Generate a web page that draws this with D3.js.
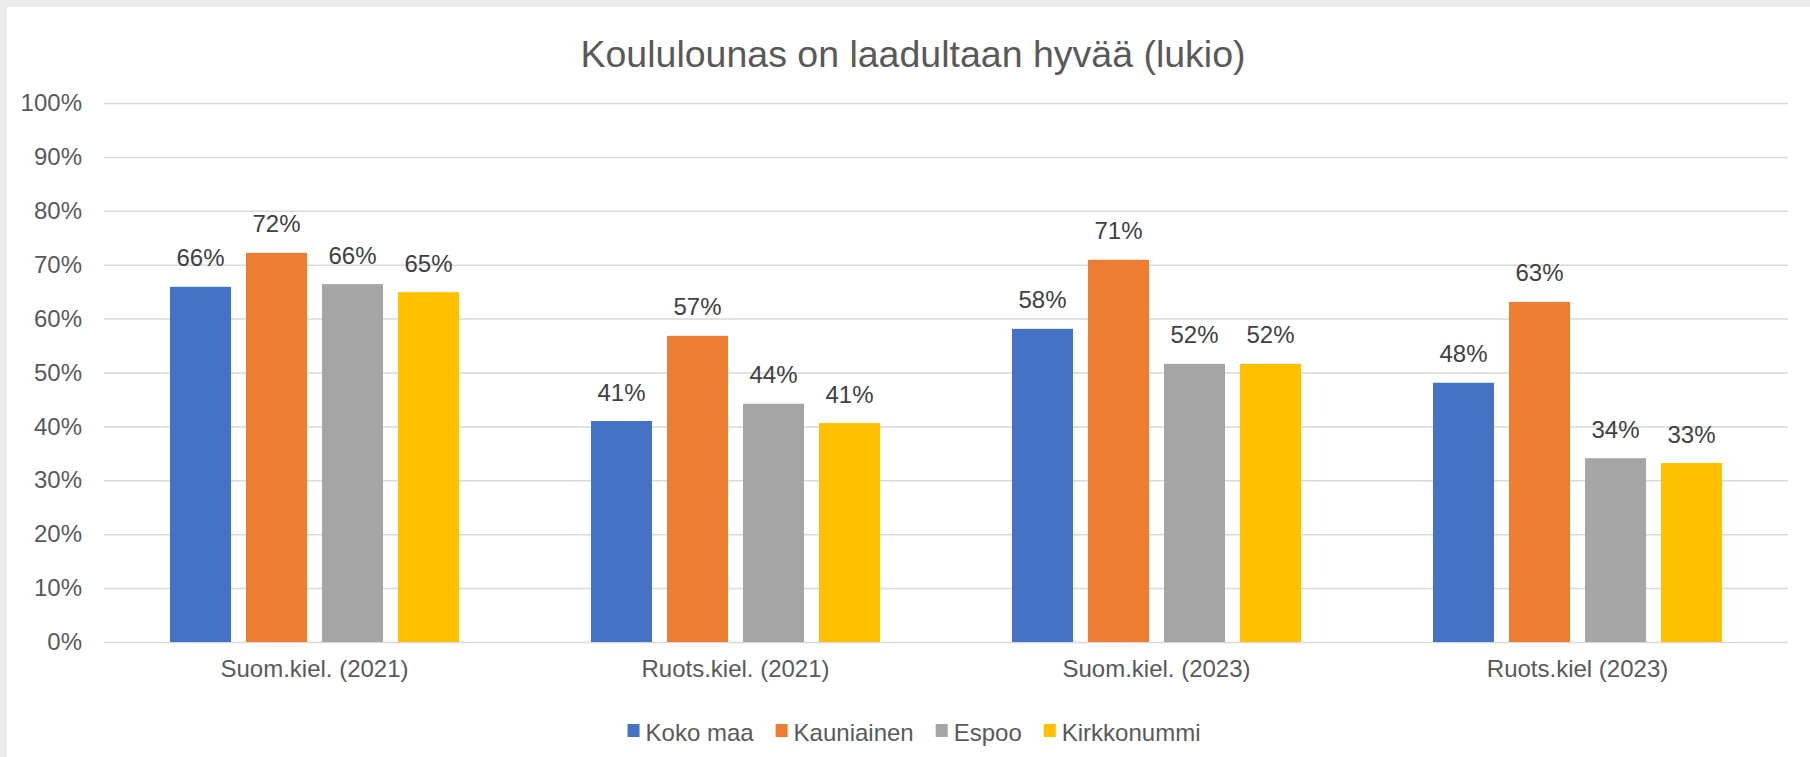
<!DOCTYPE html>
<html>
<head>
<meta charset="utf-8">
<script src="https://cdn.jsdelivr.net/npm/d3@7"></script>
<style>
  html, body { margin: 0; padding: 0; background: #ebebeb; }
  svg { display: block; }
</style>
</head>
<body>
<script>
// Chart data
const categories = ["Suom.kiel. (2021)", "Ruots.kiel. (2021)", "Suom.kiel. (2023)", "Ruots.kiel (2023)"];
const seriesNames = ["Koko maa", "Kauniainen", "Espoo", "Kirkkonummi"];
const kokoMaa     = [0.659, 0.410, 0.581, 0.481];
const kauniainen  = [0.722, 0.568, 0.709, 0.631];
const espoo       = [0.664, 0.442, 0.516, 0.341];
const kirkkonummi = [0.649, 0.406, 0.516, 0.332];
const yTicks = [0, 0.1, 0.2, 0.3, 0.4, 0.5, 0.6, 0.7, 0.8, 0.9, 1.0];
const titleText = "Koululounas on laadultaan hyvää (lukio)";

const seriesValues = [kokoMaa, kauniainen, espoo, kirkkonummi];
const colors = ["#4472C4", "#ED7D31", "#A5A5A5", "#FFC000"];

const W = 1810, H = 757;
const font = "'Liberation Sans', Arial, sans-serif";
const labelSize = "24px";
const plot = { left: 104, right: 1788, top: 103, bottom: 642 };

const svg = d3.select("body").append("svg")
  .attr("width", W).attr("height", H)
  .style("font-family", font);

// white chart area inside the grey frame
svg.append("rect").attr("x", 7).attr("y", 7).attr("width", W - 7).attr("height", H - 7).attr("fill", "#ffffff");

const x0 = d3.scaleBand().domain(categories).range([plot.left, plot.right]).paddingInner(0).paddingOuter(0);
const x1 = d3.scaleBand().domain(seriesNames).range([0, x0.bandwidth()]).paddingInner(0.197).paddingOuter(0.868);
const y = d3.scaleLinear().domain([0, 1]).range([plot.bottom, plot.top]);
const pct = d3.format(".0%");

// gridlines + y tick labels
const yAxis = d3.axisLeft(y).tickValues(yTicks).tickFormat(pct)
  .tickSize(-(plot.right - plot.left)).tickPadding(22);
const gy = svg.append("g").attr("transform", `translate(${plot.left},0)`).call(yAxis);
gy.select(".domain").remove();
gy.selectAll(".tick line").attr("stroke", "#d9d9d9").attr("stroke-width", 1.5);
gy.selectAll(".tick text").attr("fill", "#595959").style("font-size", labelSize).style("font-family", font);

// category axis labels
const xAxis = d3.axisBottom(x0).tickSize(0).tickPadding(18);
const gx = svg.append("g").attr("transform", `translate(0,${plot.bottom})`).call(xAxis);
gx.select(".domain").remove();
gx.selectAll(".tick text").attr("fill", "#595959").style("font-size", labelSize).style("font-family", font);

// bars
const rows = [];
categories.forEach((c, ci) => seriesNames.forEach((s, si) => rows.push({ c, s, si, v: seriesValues[si][ci] })));

const groups = svg.append("g");
groups.selectAll("rect.bar").data(rows).join("rect")
  .attr("class", "bar")
  .attr("x", d => x0(d.c) + x1(d.s))
  .attr("width", x1.bandwidth())
  .attr("y", d => y(d.v))
  .attr("height", d => y(0) - y(d.v))
  .attr("fill", d => colors[d.si]);

// value labels
groups.selectAll("text.lbl").data(rows).join("text")
  .attr("class", "lbl")
  .attr("x", d => x0(d.c) + x1(d.s) + x1.bandwidth() / 2)
  .attr("y", d => y(d.v) - 20.5)
  .attr("text-anchor", "middle")
  .attr("fill", "#404040")
  .style("font-size", labelSize)
  .text(d => pct(d.v));

// title
svg.append("text")
  .attr("x", 913).attr("y", 67)
  .attr("text-anchor", "middle")
  .attr("fill", "#595959")
  .style("font-size", "37.5px")
  .text(titleText);

// legend
const legend = svg.append("g").attr("transform", "translate(0,724)");
let lx = 0;
const items = [];
seriesNames.forEach((name, i) => {
  const g = legend.append("g");
  g.append("rect").attr("x", 0).attr("y", 0).attr("width", 12).attr("height", 13).attr("fill", colors[i]);
  const t = g.append("text").attr("x", 18).attr("y", 16.5).attr("fill", "#595959")
    .style("font-size", labelSize).text(name);
  const w = 18 + t.node().getComputedTextLength();
  items.push({ g, lx });
  lx += w + 22;
});
const totalW = lx - 22;
const startX = 914 - totalW / 2;
items.forEach(it => it.g.attr("transform", `translate(${startX + it.lx},0)`));
</script>
</body>
</html>
